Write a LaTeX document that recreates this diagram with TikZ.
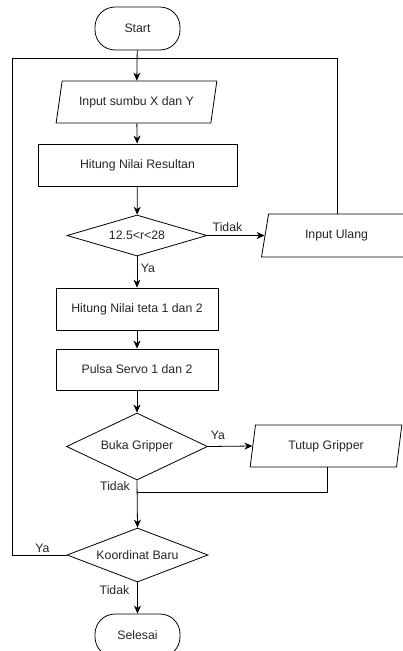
\documentclass[tikz,border=0pt]{standalone}
\usepackage{fontspec}
\setmainfont{Liberation Sans}
\usetikzlibrary{shapes.geometric,arrows.meta}
\begin{document}
\begin{tikzpicture}[x=1pt,y=-1pt,
  every node/.style={font=\fontsize{12.3}{14}\selectfont, text=black!85},
  line/.style={draw=black, line width=0.8pt},
  arr/.style={line, -{Stealth[length=8pt,width=7pt,inset=2.5pt]}},
  term/.style={line, rounded corners=20pt, minimum width=85pt, minimum height=43pt, inner sep=0pt},
  proc/.style={line, minimum height=42pt, inner sep=0pt},
  dec/.style={line, diamond, aspect=2, inner sep=0pt},
  io/.style={line, trapezium, trapezium stretches=true, inner sep=0pt, minimum height=42pt},
  lbl/.style={inner sep=0pt}
]
\clip (0,0) rectangle (403,651);
\fill[white] (0,0) rectangle (403,651);

\node[term] (start) at (137.5,28.5) {Start};
\node[io, trapezium left angle=68, trapezium right angle=112, minimum width=161pt] (in) at (136.5,102) {Input sumbu X dan Y};
\node[proc, minimum width=199pt] (res) at (137.5,165) {Hitung Nilai Resultan};
\node[dec, minimum width=140pt, minimum height=41pt] (d1) at (137,235.5) {12.5<r<28};
\node[io, trapezium left angle=74, trapezium right angle=106, minimum width=151pt, minimum height=43pt] (iu) at (336.5,235.5) {Input Ulang};
\node[proc, minimum width=162pt] (teta) at (137,309) {Hitung Nilai teta 1 dan 2};
\node[proc, minimum width=162pt, minimum height=41pt] (pulsa) at (137,369.5) {Pulsa Servo 1 dan 2};
\node[dec, minimum width=141pt, minimum height=67pt] (d2) at (137,446.5) {Buka Gripper};
\node[io, trapezium left angle=76, trapezium right angle=104, minimum width=152pt] (tg) at (326,446) {Tutup Gripper};
\node[dec, minimum width=141pt, minimum height=54pt] (d3) at (137.5,555) {Koordinat Baru};
\node[term] (end) at (137.5,635.5) {Selesai};

\coordinate (top) at (137,58);
\coordinate (join) at (137,492);

\draw[arr] (start) -- (in);
\draw[arr] (in) -- (res);
\draw[arr] (res) -- (d1);
\draw[arr] (d1) -- (teta);
\draw[arr] (d1.east) -- (iu.west);
\draw[line] (iu.north -| 337,0) -- (337,58) -- (top);
\draw[arr] (teta) -- (pulsa);
\draw[arr] (pulsa) -- (d2);
\draw[arr] (d2.east) -- (tg.west);
\draw[line] (tg.south -| 327,0) -- (327,492) -- (join);
\draw[arr] (d2.south) -- (d3.north);
\draw[line] (d3.west) -- (12,555) -- (12,58) -- (top);
\draw[arr] (d3.south) -- (end.north);

\node[lbl] (l1) at (227.5,227) {Tidak};
\node[lbl] (l2) at (148,268) {Ya};
\node[lbl] (l3) at (218,435) {Ya};
\node[lbl] (l4) at (115,486) {Tidak};
\node[lbl] (l5) at (42.5,548) {Ya};
\node[lbl] (l6) at (114.5,590) {Tidak};
\end{tikzpicture}
\end{document}
